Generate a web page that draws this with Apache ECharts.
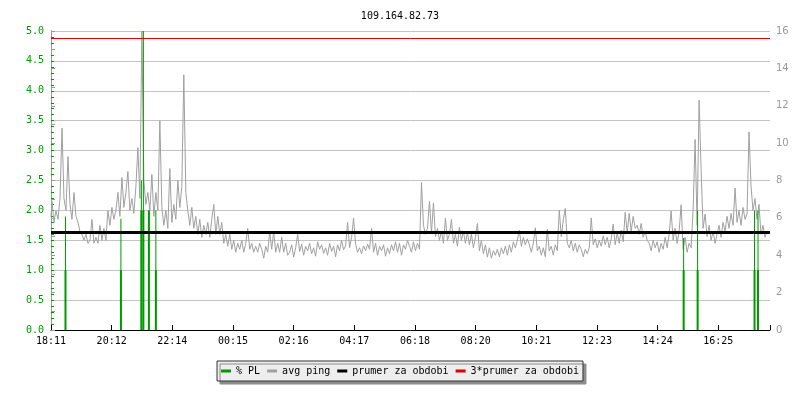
<!DOCTYPE html>
<html>
<head>
<meta charset="utf-8">
<script src="https://cdn.jsdelivr.net/npm/echarts@6/dist/echarts.min.js"></script>
<style>html,body{margin:0;padding:0;background:#fff}#c{width:800px;height:400px}</style>
</head>
<body>
<div id="c"></div>
<script>
// ---- data ----
const titleText = '109.164.82.73';
const xTickLabels = ['18:11','20:12','22:14','00:15','02:16','04:17','06:18','08:20','10:21','12:23','14:24','16:25'];
const xTickStepMin = 121.5;   // minutes between labelled ticks
const spanMin = 1440;         // 24 h window
const pingStepMin = 4;        // sampling step of avg ping (minutes)
// avg ping, ms (right axis)
const pingMs = [
6.08,6.88,5.76,6.4,5.92,7.04,10.8,7.04,6.4,9.28,
6.72,5.92,7.36,6.08,5.76,5.28,5.12,4.8,5.12,4.64,
4.8,5.92,4.64,4.96,4.64,5.6,4.8,5.44,4.8,6.4,
5.6,6.56,5.92,6.4,7.36,6.08,8.16,6.56,7.36,8.48,
6.4,7.04,6.24,7.68,9.76,7.04,16.0,8.0,6.72,7.36,
6.4,8.32,6.08,7.36,6.4,11.2,6.56,5.6,6.4,5.44,
8.64,5.76,6.72,5.92,8.0,6.56,7.68,13.66,7.36,6.4,
5.6,6.56,5.44,6.08,5.12,5.92,4.96,5.6,5.12,5.76,
4.96,5.92,6.72,5.12,6.08,5.12,5.76,4.64,5.12,4.48,
5.12,4.32,4.8,4.16,4.64,4.32,4.8,4.16,4.64,5.44,
4.32,4.64,4.16,4.48,4.16,4.64,4.32,3.84,4.48,4.16,
5.28,4.32,5.28,4.16,4.64,4.16,4.96,4.16,4.64,4.0,
4.16,4.56,3.9,4.4,5.12,4.2,4.6,4.0,4.48,4.24,
4.64,4.08,4.4,3.95,4.72,4.32,4.56,4.1,4.4,4.0,
4.64,4.2,4.48,3.92,4.56,4.24,4.8,4.3,4.5,5.76,
4.4,4.96,6.0,4.6,4.16,4.4,4.08,4.5,4.24,4.6,
4.32,5.44,4.16,4.64,4.0,4.48,4.24,4.56,3.95,4.4,
4.08,4.56,4.24,4.72,4.16,4.64,4.0,4.56,4.32,4.8,
4.48,4.16,4.72,4.24,4.64,4.32,7.9,5.6,5.12,5.44,
6.88,5.2,6.8,5.0,5.44,4.8,5.28,4.64,5.98,4.8,
5.12,5.92,4.64,5.12,4.48,5.5,4.8,5.28,4.64,5.2,
4.56,5.12,4.4,4.96,5.7,4.24,4.8,4.08,4.56,3.9,
4.4,3.84,4.24,4.0,4.32,3.92,4.4,4.08,4.48,4.0,
4.56,4.16,4.72,4.4,4.8,5.34,4.48,4.96,4.56,4.88,
4.56,4.16,4.64,5.47,4.24,4.48,4.0,4.4,3.92,5.38,
4.24,4.48,4.0,4.56,4.24,6.4,5.0,5.9,6.5,4.64,
4.4,4.8,4.24,4.64,4.16,4.56,4.32,3.92,4.32,4.08,
4.4,6.0,4.56,4.88,4.4,4.8,4.48,5.04,4.56,4.96,
4.4,4.88,5.66,4.56,5.2,4.64,5.34,4.72,6.3,5.2,
6.24,5.28,6.08,5.44,5.6,5.12,5.7,4.96,5.28,4.8,
4.64,4.24,4.8,4.4,4.72,4.16,4.64,4.32,4.96,4.4,
5.12,6.37,4.8,5.44,4.64,5.28,6.7,4.32,4.96,4.16,
4.64,4.4,6.4,10.2,5.6,12.3,8.6,5.44,6.2,5.0,
5.6,4.8,5.28,4.64,5.12,5.6,4.96,5.76,5.28,6.08,
5.44,6.24,5.6,7.6,5.76,6.4,5.6,6.56,5.92,6.24,
10.6,7.7,6.4,7.04,5.92,6.72,5.12,5.6,4.96,5.28
];
// packet loss events (% PL, left axis)
const plMinutes = [29, 140, 181, 185, 196, 210, 1267, 1295, 1409, 1416];
const plLevel   = [1.0, 1.0, 2.0, 2.0, 2.0, 1.0, 1.0, 1.0, 1.0, 1.0];
const plPeak    = [1.9, 1.86, 2.5, 5.0, 2.0, 2.0, 1.54, 2.0, 2.0, 2.0];
const prumerMs = 5.21;           // average over the period
const triplePrumerMs = 3 * prumerMs;

// ---- chart ----
const MONO = 'DejaVu Sans Mono';
const GREEN = '#009a00';
const chart = echarts.init(document.getElementById('c'), null, {renderer: 'canvas'});

const pingData = pingMs.map((v, i) => [i * pingStepMin, v]);
const plLevelData = plMinutes.map((m, i) => [m, plLevel[i]]);
const plPeakData = plMinutes.map((m, i) => [m, plPeak[i]]);

const xAxisBase = {
  type: 'value', min: 0, max: spanMin, interval: xTickStepMin
};

chart.setOption({
  animation: false,
  backgroundColor: '#ffffff',
  title: {
    text: titleText, left: 'center', top: 6,
    textStyle: {fontFamily: MONO, fontSize: 10, fontWeight: 'normal', color: '#000'}
  },
  legend: {
    data: ['% PL', 'avg ping', 'prumer za obdobi', '3*prumer za obdobi'],
    left: 'center', top: 361,
    icon: 'rect', itemWidth: 10, itemHeight: 3, itemGap: 7,
    padding: [5, 4],
    backgroundColor: '#eeeeee', borderColor: '#333', borderWidth: 1,
    shadowColor: '#8c8c8c', shadowBlur: 0, shadowOffsetX: 3, shadowOffsetY: 3,
    textStyle: {fontFamily: MONO, fontSize: 10, color: '#000'}
  },
  grid: {left: 51, right: 30, top: 31, bottom: 70, containLabel: false},
  xAxis: [
    Object.assign({}, xAxisBase, {
      axisLine: {show: true, lineStyle: {color: '#000', width: 1}},
      axisTick: {show: true, inside: true, length: 5, lineStyle: {color: '#000'}},
      splitLine: {show: false},
      axisLabel: {
        margin: 6, color: '#000', fontFamily: MONO, fontSize: 10,
        formatter: function (v) {
          const k = Math.round(v / xTickStepMin);
          return (Math.abs(v - k * xTickStepMin) < 1e-6 && k < xTickLabels.length) ? xTickLabels[k] : '';
        }
      }
    }),
    Object.assign({}, xAxisBase, {show: false})
  ],
  yAxis: [
    {
      type: 'value', min: 0, max: 5, interval: 0.5, position: 'left',
      axisLine: {show: true, lineStyle: {color: GREEN}},
      axisTick: {show: true, inside: true, length: 3, lineStyle: {color: GREEN}},
      minorTick: {show: true, splitNumber: 5, length: 3, lineStyle: {color: GREEN}},
      splitLine: {show: true, lineStyle: {color: '#c4c4c4', width: 1}},
      axisLabel: {margin: 7, color: GREEN, fontFamily: MONO, fontSize: 10,
                  formatter: v => v.toFixed(1)}
    },
    {
      type: 'value', min: 0, max: 16, interval: 2, position: 'right',
      axisLine: {show: true, lineStyle: {color: '#9a9a9a'}},
      axisTick: {show: true, inside: false, length: 4, lineStyle: {color: '#9a9a9a'}},
      minorTick: {show: true, splitNumber: 2, length: 4, lineStyle: {color: '#9a9a9a'}},
      splitLine: {show: false},
      axisLabel: {margin: 6, color: '#9a9a9a', fontFamily: 'DejaVu Sans', fontSize: 10}
    }
  ],
  series: [
    {
      name: 'avg ping', type: 'line', xAxisIndex: 0, yAxisIndex: 1,
      data: pingData, showSymbol: false, symbol: 'none', silent: true, z: 2,
      step: 'middle',
      color: '#a0a0a0', lineStyle: {color: '#a0a0a0', width: 1}
    },
    {
      name: '% PL', type: 'bar', xAxisIndex: 0, yAxisIndex: 0,
      data: plLevelData, barWidth: 2, silent: true, z: 3,
      color: GREEN, itemStyle: {color: GREEN}
    },
    {
      name: '% PL', type: 'bar', xAxisIndex: 1, yAxisIndex: 0,
      data: plPeakData, barWidth: 1, silent: true, z: 3,
      color: GREEN, itemStyle: {color: GREEN}
    },
    {
      name: 'prumer za obdobi', type: 'line', xAxisIndex: 0, yAxisIndex: 1,
      data: [], color: '#000', z: 4,
      markLine: {
        silent: true, symbol: ['none', 'none'], label: {show: false},
        lineStyle: {color: '#000', width: 3, type: 'solid'},
        data: [{yAxis: prumerMs}], animation: false
      }
    },
    {
      name: '3*prumer za obdobi', type: 'line', xAxisIndex: 0, yAxisIndex: 1,
      data: [], color: '#e00000', z: 4,
      markLine: {
        silent: true, symbol: ['none', 'none'], label: {show: false},
        lineStyle: {color: '#e00000', width: 1, type: 'solid'},
        data: [{yAxis: triplePrumerMs}], animation: false
      }
    }
  ]
});
</script>
</body>
</html>
